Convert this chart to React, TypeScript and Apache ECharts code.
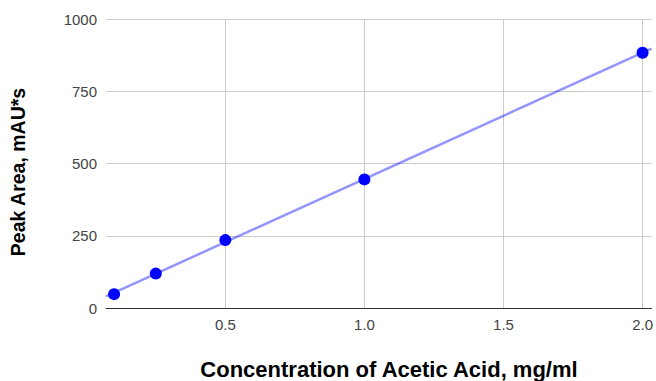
import React, { useEffect, useRef } from "react";
import * as echarts from "echarts";

const concentrations = [0.1, 0.25, 0.5, 1.0, 2.0];
const peakAreas = [48, 119, 235, 445, 883];
const xTicks = [0.5, 1.0, 1.5, 2.0];
const yTicks = [0, 250, 500, 750, 1000];
const xTitle = "Concentration of Acetic Acid, mg/ml";
const yTitle = "Peak Area, mAU*s";
const X_MIN = 0.071;
const X_MAX = 2.032;

function fitLine(xs: number[], ys: number[]) {
  const n = xs.length;
  const mx = xs.reduce((a, b) => a + b, 0) / n;
  const my = ys.reduce((a, b) => a + b, 0) / n;
  let sxx = 0;
  let sxy = 0;
  for (let i = 0; i < n; i++) {
    sxx += (xs[i] - mx) * (xs[i] - mx);
    sxy += (xs[i] - mx) * (ys[i] - my);
  }
  const slope = sxy / sxx;
  return { slope, intercept: my - slope * mx };
}

export default function App() {
  const ref = useRef<HTMLDivElement>(null);
  useEffect(() => {
    if (!ref.current) return;
    const chart = echarts.init(ref.current, undefined, { renderer: "svg" });
    const { slope, intercept } = fitLine(concentrations, peakAreas);
    const trend = [X_MIN, X_MAX].map((x) => [x, slope * x + intercept]);
    const font = "Arial, 'Liberation Sans', sans-serif";
    chart.setOption({
      animation: false,
      backgroundColor: "#ffffff",
      grid: { left: 106, right: 4, top: 19, bottom: 73 },
      xAxis: {
        type: "value",
        min: X_MIN,
        max: X_MAX,
        axisLine: { show: true, lineStyle: { color: "#333333", width: 1 } },
        axisTick: { show: false, customValues: xTicks },
        axisLabel: {
          customValues: xTicks,
          formatter: (v: number) => v.toFixed(1),
          color: "#444444",
          fontSize: 15,
          fontFamily: font,
          margin: 9,
        },
        splitLine: { show: true, lineStyle: { color: "#cccccc", width: 1 } },
      },
      yAxis: {
        type: "value",
        min: yTicks[0],
        max: yTicks[yTicks.length - 1],
        interval: 250,
        axisLine: { show: false },
        axisTick: { show: false },
        axisLabel: {
          formatter: (v: number) => String(v),
          color: "#444444",
          fontSize: 15,
          fontFamily: font,
          margin: 9,
        },
        splitLine: { show: true, lineStyle: { color: "#cccccc", width: 1 } },
      },
      series: [
        {
          type: "line",
          data: trend,
          showSymbol: false,
          symbol: "none",
          lineStyle: { color: "rgba(0,0,255,0.42)", width: 2.5 },
          silent: true,
          z: 2,
        },
        {
          type: "scatter",
          data: concentrations.map((x, i) => [x, peakAreas[i]]),
          symbolSize: 12,
          itemStyle: { color: "#0000ff", opacity: 1 },
          z: 3,
        },
      ],
      graphic: [
        {
          type: "text",
          x: 389,
          y: 369,
          style: {
            text: xTitle,
            fill: "#000000",
            font: `bold 22px ${font}`,
            textAlign: "center",
            textVerticalAlign: "middle",
          },
        },
        {
          type: "text",
          x: 17.5,
          y: 172,
          rotation: Math.PI / 2,
          style: {
            text: yTitle,
            fill: "#000000",
            font: `bold 19.5px ${font}`,
            textAlign: "center",
            textVerticalAlign: "middle",
          },
        },
      ],
    });
    return () => chart.dispose();
  }, []);
  return <div ref={ref} style={{ width: 656, height: 381, position: "absolute", left: 0, top: 0 }} />;
}
